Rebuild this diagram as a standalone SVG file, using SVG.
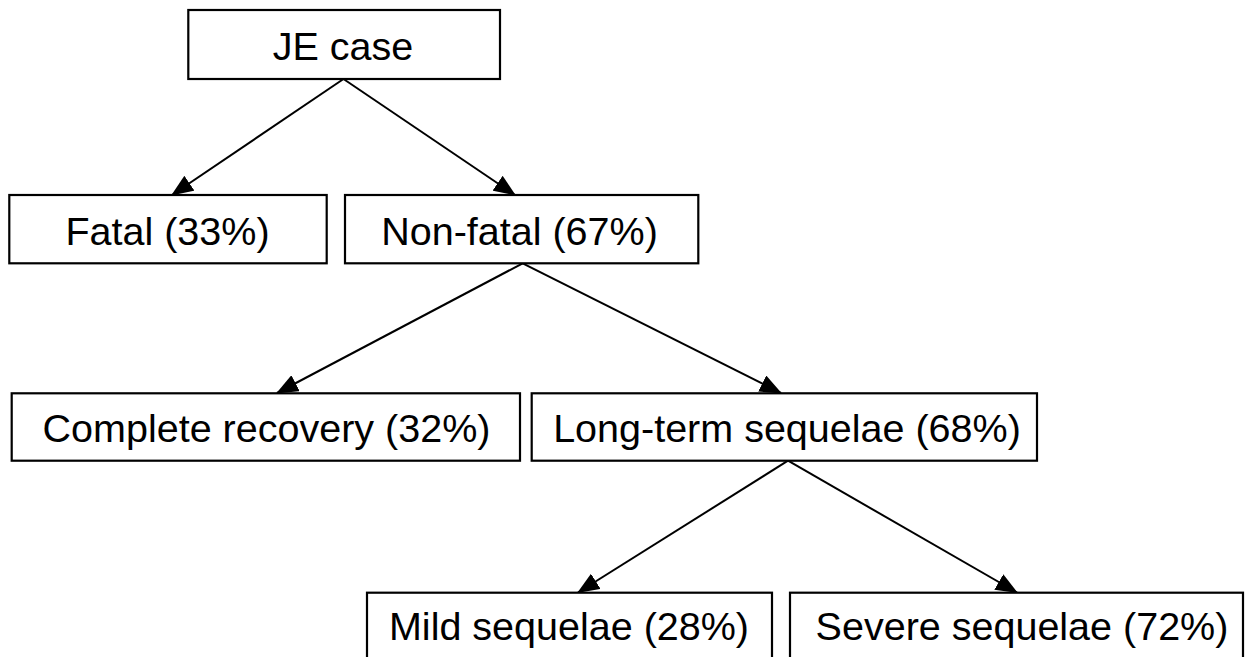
<svg xmlns="http://www.w3.org/2000/svg" width="1248" height="657" viewBox="0 0 1248 657">
  <style>
    .box { fill: #ffffff; stroke: #000000; stroke-width: 2.2; }
    .lbl { font-family: "Liberation Sans", Arial, sans-serif; font-size: 39.5px; fill: #000000; text-anchor: middle; }
    .conn { stroke: #000000; stroke-width: 2; fill: none; marker-end: url(#arrow); }
  </style>
  <defs>
    <marker id="arrow" viewBox="0 0 22 18" refX="21" refY="9" markerWidth="22" markerHeight="18" markerUnits="userSpaceOnUse" orient="auto">
      <path d="M0,0 L22,9 L0,18 z" fill="#000000"/>
    </marker>
  </defs>
  <rect width="1248" height="657" fill="#ffffff"/>
  <g id="connectors">
    <line class="conn" x1="343.5" y1="79" x2="172" y2="195"/>
    <line class="conn" x1="343.5" y1="79" x2="515" y2="195"/>
    <line class="conn" x1="522.7" y1="263.3" x2="277" y2="393"/>
    <line class="conn" x1="522.7" y1="263.3" x2="781" y2="393"/>
    <line class="conn" x1="788" y1="460.7" x2="578" y2="592.5"/>
    <line class="conn" x1="788" y1="460.7" x2="1017" y2="592.5"/>
  </g>
  <g id="je-case">
    <rect class="box" x="188.3" y="10" width="311.7" height="69"/>
    <text class="lbl" x="343" y="60">JE case</text>
  </g>
  <g id="fatal">
    <rect class="box" x="9.3" y="195" width="317.4" height="68.3"/>
    <text class="lbl" x="167.5" y="245">Fatal (33%)</text>
  </g>
  <g id="non-fatal">
    <rect class="box" x="345" y="195" width="353.3" height="68.3"/>
    <text class="lbl" x="519.5" y="245">Non-fatal (67%)</text>
  </g>
  <g id="complete-recovery">
    <rect class="box" x="11.7" y="393.3" width="508.3" height="67.4"/>
    <text class="lbl" x="266.5" y="442">Complete recovery (32%)</text>
  </g>
  <g id="long-term-sequelae">
    <rect class="box" x="531.7" y="393.3" width="505.3" height="67.4"/>
    <text class="lbl" x="787" y="442">Long-term sequelae (68%)</text>
  </g>
  <g id="mild-sequelae">
    <rect class="box" x="367" y="592.7" width="405" height="80"/>
    <text class="lbl" x="569" y="640">Mild sequelae (28%)</text>
  </g>
  <g id="severe-sequelae">
    <rect class="box" x="790" y="592.7" width="453" height="80"/>
    <text class="lbl" x="1022" y="640">Severe sequelae (72%)</text>
  </g>
</svg>
